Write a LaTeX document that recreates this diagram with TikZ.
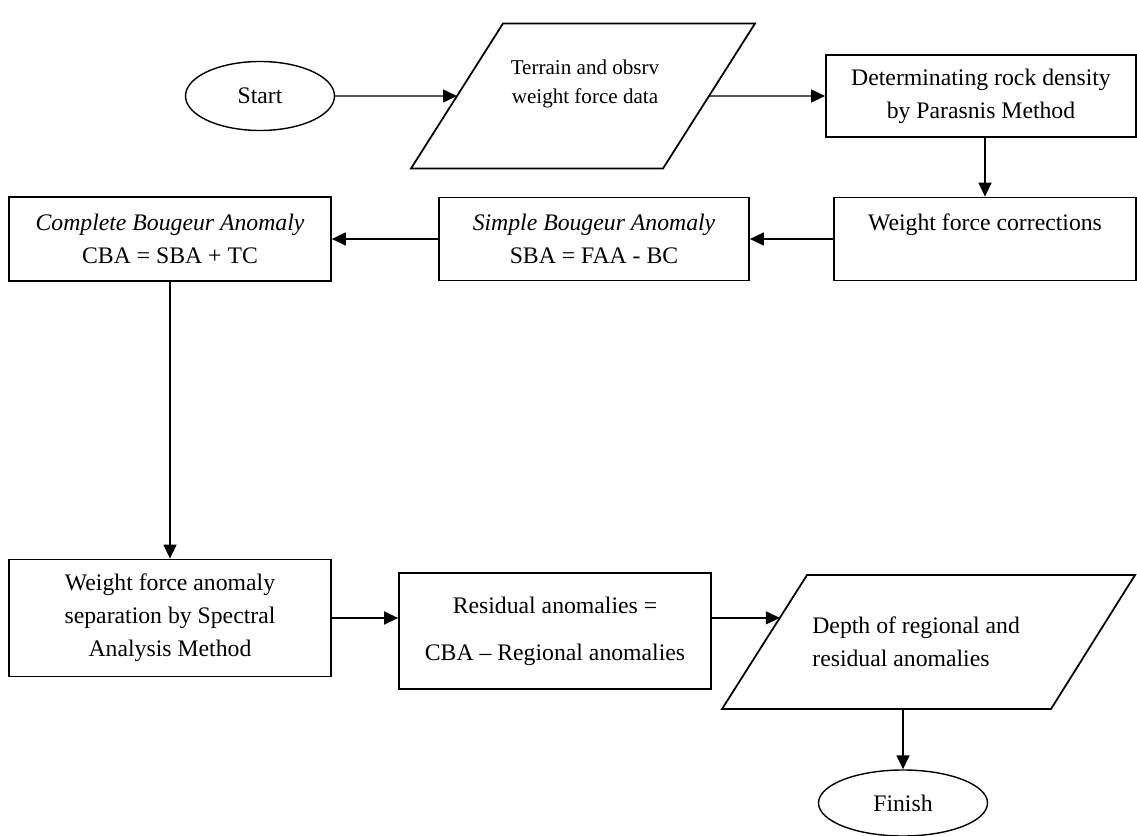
\documentclass[tikz,border=0pt]{standalone}
\usepackage{fontspec}
\setmainfont{Liberation Serif}
\usepackage{tikz}
\usetikzlibrary{shapes.geometric, arrows.meta, positioning, calc}
\newcommand{\bodyfont}{\fontsize{13.5}{18.8}\selectfont}
\newcommand{\smallbodyfont}{\fontsize{12}{17}\selectfont}
\tikzset{
  block/.style={rectangle, draw, line width=1pt, align=center,
    inner sep=2pt, font=\bodyfont},
  iotext/.style={inner sep=0pt, font=\bodyfont},
  ioline/.style={line width=1pt, line join=miter},
  terminal/.style={ellipse, draw, line width=0.8pt, font=\bodyfont},
  arrow/.style={-{Triangle[length=0.28cm, width=0.26cm]}, line width=0.8pt}
}
\begin{document}
\begin{tikzpicture}
  \useasboundingbox (0,0) rectangle (22.74,-16.72);

  % Start
  \node[terminal, minimum width=2.98cm, minimum height=1.38cm] (start) at (5.2, -1.92) {Start};

  % Input data
  \node[iotext, align=center, font=\smallbodyfont] (obs) at (11.7, -1.68) {Terrain and obsrv\\weight force data};
  \draw[ioline] (8.22, -3.37) coordinate (obs-bl) -- (13.26, -3.37) coordinate (obs-br)
    -- (15.10, -0.47) coordinate (obs-tr) -- (10.06, -0.47) coordinate (obs-tl) -- cycle;
  \coordinate (obs-in) at ($(obs-bl)!0.5!(obs-tl)$);
  \coordinate (obs-out) at ($(obs-br)!0.5!(obs-tr)$);

  % Density
  \node[block, minimum width=6.2cm, minimum height=1.64cm] (rho) at (19.62, -1.92) {Determinating rock density\\by Parasnis Method};

  % Corrections
  \node[block, minimum width=6.04cm, minimum height=1.66cm] (corr) at (19.7, -4.78) {Weight force corrections\\ \mbox{}};

  % SBA
  \node[block, minimum width=6.2cm, minimum height=1.66cm] (sba) at (11.88, -4.78) {\textit{Simple Bougeur Anomaly}\\SBA = FAA - BC};

  % CBA
  \node[block, minimum width=6.44cm, minimum height=1.68cm] (cba) at (3.4, -4.78) {\textit{Complete Bougeur Anomaly}\\CBA = SBA + TC};

  % Separation
  \node[block, minimum width=6.44cm, minimum height=2.34cm] (sep) at (3.4, -12.36) {Weight force anomaly\\separation by Spectral\\Analysis Method};

  % Residual
  \node[block, minimum width=6.24cm, minimum height=2.32cm] (res) at (11.1, -12.62) {Residual anomalies =\\[8pt]CBA – Regional anomalies};

  % Output
  \node[iotext, align=left, anchor=west] (depth) at (16.24, -12.83) {Depth of regional and\\residual anomalies};
  \draw[ioline] (14.44, -14.18) coordinate (depth-bl) -- (21.02, -14.18)
    -- (22.70, -11.50) -- (16.14, -11.50) coordinate (depth-tl) -- cycle;
  \coordinate (depth-in) at ($(depth-bl)!0.68!(depth-tl)$);
  \coordinate (depth-out) at (18.06, -14.18);

  % Finish
  \node[terminal, minimum width=3.38cm, minimum height=1.32cm] (finish) at (18.06, -16.06) {Finish};

  % Paths
  \draw[arrow] (start) -- (obs-in);
  \draw[arrow] (obs-out) -- (rho);
  \draw[arrow] (rho.south -| corr.north) -- (corr.north);
  \draw[arrow] (corr) -- (sba);
  \draw[arrow] (sba) -- (cba);
  \draw[arrow] (cba) -- (sep);
  \draw[arrow] (sep.east) -- (sep.east -| res.west);
  \draw[arrow] (res.east |- depth-in) -- (depth-in);
  \draw[arrow] (depth-out) -- (finish);
\end{tikzpicture}
\end{document}
